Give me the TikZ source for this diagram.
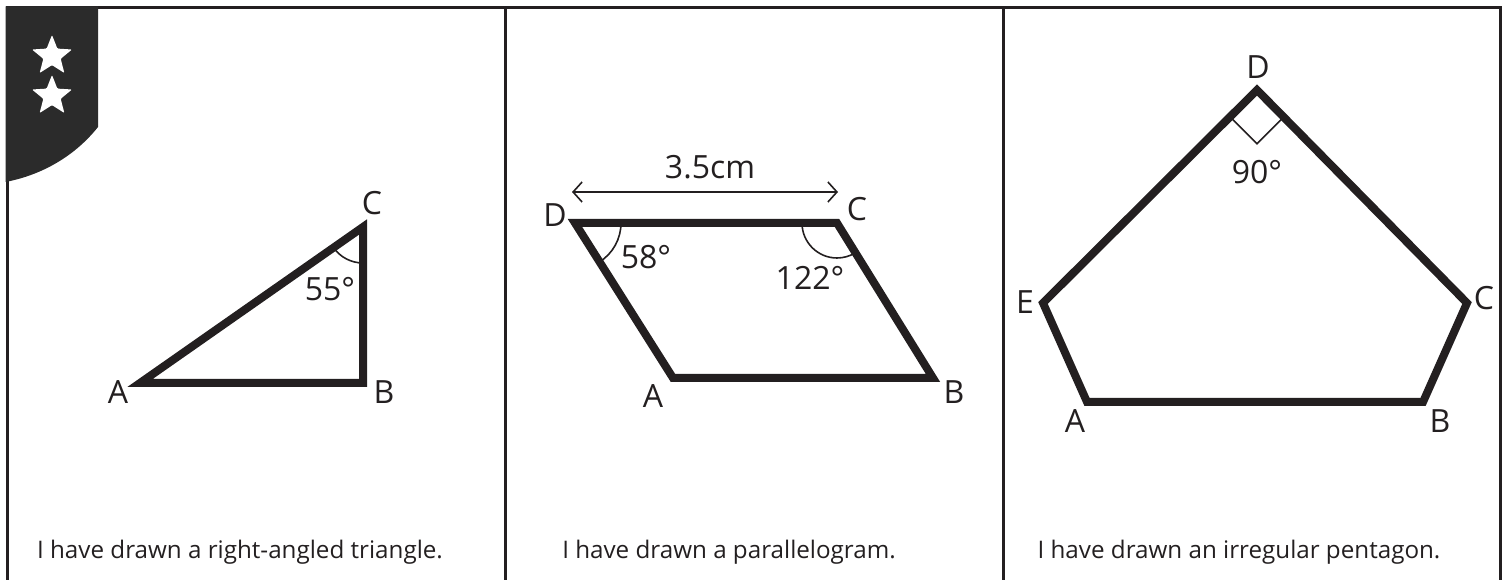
\documentclass[tikz,border=0pt]{standalone}
\usepackage{fontspec}
\setmainfont{Open Sans}
\usetikzlibrary{arrows.meta,calc,shapes.geometric}

\definecolor{tinta}{HTML}{231F20}
\definecolor{insignia}{HTML}{2B2B2B}

\begin{document}
\begin{tikzpicture}[
    x=1pt,
    y=1pt,
    >={Straight Barb[length=9pt,width=20pt]},
    line join=miter,
    every node/.style={font=\fontsize{32}{36}\selectfont, text=tinta, inner sep=0pt},
    marco/.style={line width=3pt, tinta},
    lado/.style={line width=8pt, tinta},
    marca/.style={line width=1.6pt, tinta},
    leyenda/.style={font=\fontsize{24.2}{29}\selectfont},
    estrella/.style={star, star points=5, star point ratio=2.3, fill=white, minimum size=42pt, rounded corners=1pt}
]

\useasboundingbox (0,0) rectangle (1509,580);

\draw[marco] (7,0) -- (7,572) -- (1500,572) -- (1500,0);
\draw[marco] (505,0) -- (505,572);
\draw[marco] (1003,0) -- (1003,572);

\fill[insignia] (5.5,573.5) -- (98,573.5) -- (98,453) .. controls (75,424) and (42,405) .. (5.5,398) -- cycle;
\node[estrella] (est1) at (52,524) {};
\node[estrella] (est2) at (52,484) {};

\coordinate (tA) at (140,197);
\coordinate (tB) at (363,197);
\coordinate (tC) at (363,353);

\draw[lado] (tA) -- (tB) -- (tC) -- cycle;
\draw[marca] ($(tC)+(214.7:36)$) arc[start angle=214.7, end angle=270, radius=36];
\node (etA) at (118,188) {A};
\node (etB) at (384,188) {B};
\node (etC) at (372,377) {C};
\node (angC) at (330,291) {55°};

\coordinate (pA) at (673,202);
\coordinate (pB) at (933,202);
\coordinate (pC) at (837,357);
\coordinate (pD) at (575,357);

\draw[lado] (pA) -- (pB) -- (pC) -- (pD) -- cycle;
\draw[marca] ($(pD)+(-57.7:46)$) arc[start angle=-57.7, end angle=0, radius=46];
\draw[marca] ($(pC)+(180:35)$) arc[start angle=180, end angle=301.8, radius=35];
\coordinate (fl1) at (572,388);
\coordinate (fl2) at (838,388);
\draw[marca, <->] (fl1) -- (fl2);
\node (medida) at (710,413) {3.5cm};
\node (epA) at (653,184) {A};
\node (epB) at (954,188) {B};
\node (epC) at (857,371) {C};
\node (epD) at (555,365) {D};
\node (angD) at (646,323) {58°};
\node (angCp) at (810,302) {122°};

\coordinate (qA) at (1087,178);
\coordinate (qB) at (1423,178);
\coordinate (qC) at (1467,277);
\coordinate (qD) at (1257,490);
\coordinate (qE) at (1043,277);

\draw[lado] (qA) -- (qB) -- (qC) -- (qD) -- (qE) -- cycle;
\draw[marca] ($(qD)+(225:38)$) -- ($(qD)+(270:53.7)$) -- ($(qD)+(315:38)$);
\node (eqA) at (1075,159) {A};
\node (eqB) at (1440,159) {B};
\node (eqC) at (1484,282) {C};
\node (eqD) at (1258,513) {D};
\node (eqE) at (1025,278) {E};
\node (angDq) at (1257,408) {90°};

\node[leyenda] (ley1) at (240,28) {I have drawn a right-angled triangle.};
\node[leyenda] (ley2) at (729,28) {I have drawn a parallelogram.};
\node[leyenda] (ley3) at (1239,28) {I have drawn an irregular pentagon.};

\end{tikzpicture}
\end{document}
